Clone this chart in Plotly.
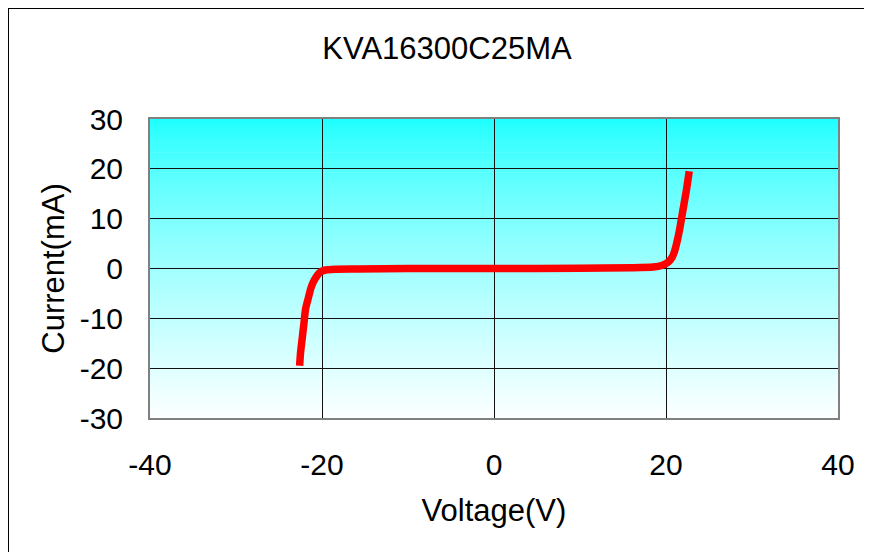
import plotly.graph_objects as go

voltage = [-22.6, -22.5, -22.3, -22.1, -21.9, -21.6, -21.3, -21.0, -20.6, -20.2, -19.6, -18.5, -16.0,
           -10.0, 0.0, 10.0, 16.0, 18.5, 19.5, 20.2, 20.7, 21.0, 21.3, 21.6, 21.9, 22.1, 22.4, 22.7]
current = [-19.5, -17.0, -14.0, -11.0, -8.0, -6.0, -4.0, -2.7, -1.5, -0.7, -0.3, -0.15, -0.1,
           0.0, 0.0, 0.05, 0.15, 0.3, 0.6, 1.2, 2.2, 3.5, 5.5, 8.0, 11.0, 13.0, 16.0, 19.5]

title_text = "KVA16300C25MA"
x_title = "Voltage(V)"
y_title = "Current(mA)"
x_ticks = [-40, -20, 0, 20, 40]
x_ticktext = ["-40", "-20", "0", "20", "40"]
y_ticks = [-30, -20, -10, 0, 10, 20, 30]
y_ticktext = ["-30", "-20", "-10", "0", "10", "20", "30"]

W, H = 864, 544
L, R, T, B = 142, 34, 111, 134

fig = go.Figure()
fig.add_trace(go.Scatter(x=voltage, y=current, mode="lines",
                         line=dict(color="#ff0000", width=7.5, shape="spline", smoothing=0.6),
                         showlegend=False, hoverinfo="skip"))

# gradient background bands (cyan top -> white bottom)
shapes = []
n = 90
top = (26, 255, 255)
bot = (252, 255, 255)
for i in range(n):
    t = (i + 0.5) / n
    f = t ** 0.75
    c = tuple(int(round(top[k] + (bot[k] - top[k]) * f)) for k in range(3))
    y1 = 1 - i / n
    y0 = 1 - (i + 1) / n
    shapes.append(dict(type="rect", xref="x domain", yref="y domain", x0=0, x1=1,
                       y0=max(0, y0 - 0.002), y1=y1, fillcolor="rgb(%d,%d,%d)" % c,
                       line=dict(width=0), layer="below"))

# outer figure frame
pw = (W - L - R)
ph = (H - T - B)
shapes.append(dict(type="rect", xref="paper", yref="paper",
                   x0=(0 - L) / pw, x1=(W + 20 - L) / pw,
                   y0=-(H + 20 - T - ph) / ph, y1=1 + (T - 0) / ph,
                   line=dict(color="black", width=2), fillcolor="rgba(0,0,0,0)", layer="above"))

font_family = "Liberation Sans, Arial, sans-serif"
fig.update_layout(
    width=W, height=H,
    margin=dict(l=L, r=R, t=T, b=B),
    paper_bgcolor="white", plot_bgcolor="white",
    title=dict(text=title_text, x=(439) / W, xanchor="center", y=1 - 40 / H, yanchor="middle",
               font=dict(family=font_family, size=31, color="black")),
    shapes=shapes,
    xaxis=dict(range=[-40, 40], tickvals=x_ticks, ticktext=x_ticktext, showgrid=True,
               gridcolor="#111111", gridwidth=1,
               zeroline=False, showline=True, linecolor="#808080", linewidth=2, mirror=True,
               ticks="", ticklabelstandoff=19,
               tickfont=dict(family=font_family, size=30, color="black"),
               title=dict(text=x_title, standoff=19, font=dict(family=font_family, size=31, color="black"))),
    yaxis=dict(range=[-30, 30], tickvals=y_ticks, ticktext=y_ticktext, showgrid=True,
               gridcolor="#111111", gridwidth=1,
               zeroline=False, showline=True, linecolor="#808080", linewidth=2, mirror=True,
               ticks="", ticklabelstandoff=19,
               tickfont=dict(family=font_family, size=30, color="black"),
               title=dict(text=y_title, standoff=6, font=dict(family=font_family, size=31, color="black"))),
)

fig.write_html("out.html")
